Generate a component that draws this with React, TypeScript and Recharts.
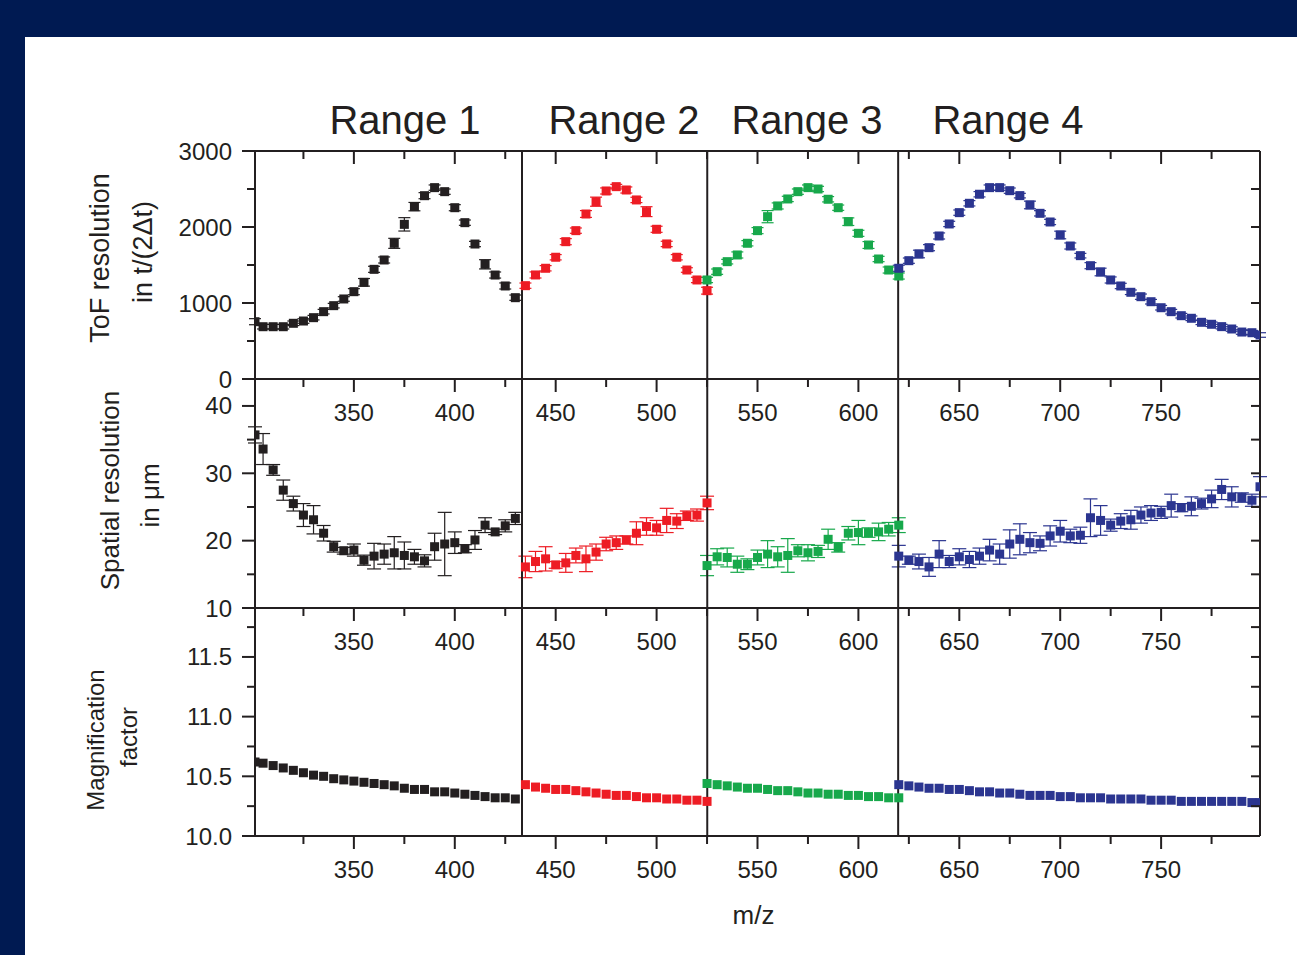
import React from "react";
import { ScatterChart, Scatter, XAxis, YAxis, ErrorBar, ReferenceLine } from "recharts";

const ink = "#231f20";
const navy = "#001a52";
const font = "'Liberation Sans', Arial, Helvetica, sans-serif";
const rangeColors = ["#231f20", "#ed1c24", "#17a84b", "#2b3590"];

// m/z positions of the four ranges
const r1Mz = [301, 305, 310, 315, 320, 325, 330, 335, 340, 345, 350, 355, 360, 365, 370, 375, 380, 385, 390, 395, 400, 405, 410, 415, 420, 425, 430];
const r2Mz = [435, 440, 445, 450, 455, 460, 465, 470, 475, 480, 485, 490, 495, 500, 505, 510, 515, 520, 525];
const r3Mz = [525, 530, 535, 540, 545, 550, 555, 560, 565, 570, 575, 580, 585, 590, 595, 600, 605, 610, 615, 620];
const r4Mz = [620, 625, 630, 635, 640, 645, 650, 655, 660, 665, 670, 675, 680, 685, 690, 695, 700, 705, 710, 715, 720, 725, 730, 735, 740, 745, 750, 755, 760, 765, 770, 775, 780, 785, 790, 795, 799];

// ToF resolution t/(2Δt)
const r1Tof = [754, 688, 688, 688, 733, 763, 807, 886, 965, 1053, 1149, 1272, 1443, 1566, 1785, 2035, 2268, 2412, 2518, 2465, 2254, 2057, 1776, 1509, 1368, 1224, 1070];
const r1TofErr = [40, 30, 30, 30, 30, 30, 30, 30, 30, 30, 40, 50, 40, 40, 66, 88, 55, 40, 35, 35, 40, 35, 35, 61, 40, 40, 35];
const r2Tof = [1228, 1369, 1457, 1602, 1807, 1952, 2171, 2333, 2474, 2531, 2487, 2356, 2202, 1970, 1777, 1602, 1434, 1303, 1162];
const r2TofErr = [35, 40, 35, 35, 40, 35, 45, 60, 40, 30, 40, 35, 65, 40, 35, 35, 30, 35, 45];
const r3Tof = [1303, 1412, 1544, 1632, 1786, 1952, 2136, 2277, 2369, 2465, 2518, 2500, 2365, 2254, 2070, 1917, 1763, 1579, 1434, 1355];
const r3TofErr = [35, 35, 30, 40, 35, 40, 80, 40, 35, 35, 35, 35, 35, 35, 50, 40, 45, 35, 40, 40];
const r4Tof = [1457, 1557, 1645, 1728, 1882, 2040, 2189, 2312, 2431, 2518, 2518, 2478, 2413, 2290, 2180, 2066, 1895, 1750, 1623, 1491, 1408, 1303, 1224, 1141, 1083, 1017, 938, 886, 833, 799, 746, 720, 689, 658, 618, 609, 579];
const r4TofErr = [40, 35, 50, 40, 40, 35, 35, 35, 35, 35, 35, 35, 30, 50, 35, 35, 50, 40, 30, 40, 50, 40, 35, 30, 35, 30, 30, 30, 30, 30, 30, 30, 30, 30, 30, 30, 30];

// spatial resolution in µm
const r1Spatial = [35.7, 33.6, 30.5, 27.5, 25.5, 23.8, 23.1, 21.1, 19.1, 18.5, 18.6, 17.1, 17.7, 18.0, 18.2, 17.8, 17.6, 17.0, 19.1, 19.5, 19.7, 18.8, 20.1, 22.3, 21.3, 22.2, 23.3];
const r1SpatialErr = [1.2, 2.3, 0.8, 1.5, 1.1, 1.7, 2.1, 1.15, 0.8, 0.5, 0.9, 0.75, 1.9, 1.5, 2.4, 2.0, 1.1, 0.9, 2.0, 4.7, 1.6, 0.6, 1.4, 1.1, 0.4, 0.9, 0.9];
const r2Spatial = [16.1, 16.9, 17.3, 16.4, 16.7, 17.8, 17.3, 18.3, 19.5, 19.7, 20.1, 21.1, 22.1, 21.9, 23.0, 22.9, 23.7, 23.8, 25.6];
const r2SpatialErr = [1.6, 1.5, 1.8, 0.5, 1.4, 1.1, 1.9, 1.2, 1.0, 1.0, 0.6, 1.7, 1.3, 1.1, 1.8, 1.1, 0.7, 0.9, 1.0];
const r3Spatial = [16.3, 17.6, 17.5, 16.5, 16.5, 17.5, 18.0, 17.6, 17.8, 18.5, 18.2, 18.4, 20.2, 19.0, 21.1, 21.2, 21.2, 21.3, 21.7, 22.3];
const r3SpatialErr = [1.5, 1.2, 1.4, 1.2, 0.8, 1.1, 2.0, 1.5, 2.5, 0.9, 1.2, 0.9, 1.5, 0.7, 1.0, 1.8, 0.7, 1.3, 1.0, 1.1];
const r4Spatial = [17.7, 17.1, 16.9, 16.1, 18.0, 16.9, 17.6, 17.2, 17.7, 18.6, 18.0, 19.5, 20.2, 19.7, 19.6, 20.7, 21.4, 20.7, 20.8, 23.4, 23.0, 22.3, 22.9, 23.1, 23.8, 24.1, 24.2, 25.2, 24.9, 25.1, 25.5, 26.2, 27.6, 26.5, 26.4, 26.0, 28.0];
const r4SpatialErr = [1.6, 0.6, 1.1, 1.4, 2.0, 0.9, 1.2, 1.2, 1.2, 1.6, 1.5, 2.1, 2.3, 1.5, 1.1, 1.5, 1.6, 1.0, 1.2, 2.8, 2.2, 0.9, 1.1, 1.4, 1.2, 1.1, 0.9, 1.7, 0.6, 1.4, 0.8, 1.3, 1.5, 1.5, 0.7, 0.9, 1.5];

// magnification factor
const r1Mag = [10.62, 10.61, 10.59, 10.57, 10.55, 10.53, 10.51, 10.5, 10.48, 10.47, 10.46, 10.45, 10.44, 10.43, 10.42, 10.4, 10.39, 10.39, 10.37, 10.37, 10.36, 10.35, 10.34, 10.33, 10.32, 10.32, 10.31];
const r2Mag = [10.43, 10.41, 10.4, 10.39, 10.39, 10.38, 10.37, 10.36, 10.35, 10.34, 10.34, 10.33, 10.32, 10.32, 10.31, 10.31, 10.3, 10.3, 10.29];
const r3Mag = [10.44, 10.43, 10.42, 10.41, 10.4, 10.4, 10.39, 10.38, 10.38, 10.37, 10.36, 10.36, 10.35, 10.35, 10.34, 10.34, 10.33, 10.33, 10.32, 10.32];
const r4Mag = [10.43, 10.42, 10.41, 10.4, 10.4, 10.39, 10.39, 10.38, 10.37, 10.37, 10.36, 10.36, 10.35, 10.34, 10.34, 10.34, 10.33, 10.33, 10.32, 10.32, 10.32, 10.31, 10.31, 10.31, 10.31, 10.3, 10.3, 10.3, 10.29, 10.29, 10.29, 10.29, 10.29, 10.29, 10.29, 10.28, 10.28];

const xTicks = [325, 350, 375, 400, 425, 450, 475, 500, 525, 550, 575, 600, 625, 650, 675, 700, 725, 750, 775];
const xLabelTicks = [350, 400, 450, 500, 550, 600, 650, 700, 750];
const rangeEdges = [433.3, 525.1, 619.7];
const rangeTitles = ["Range 1", "Range 2", "Range 3", "Range 4"];

const tofTicks = [0, 500, 1000, 1500, 2000, 2500, 3000];
const tofLabelTicks = [0, 1000, 2000, 3000];
const spatialTicks = [10, 15, 20, 25, 30, 35, 40];
const spatialLabelTicks = [10, 20, 30, 40];
const magTicks = [10, 10.25, 10.5, 10.75, 11, 11.25, 11.5, 11.75];
const magLabelTicks = [10, 10.5, 11, 11.5];

const zip = (mz: number[], y: number[], err?: number[]) =>
  mz.map((x, i) => ({ x, y: y[i], err: err ? err[i] : 0 }))

const tofSeries = [zip(r1Mz, r1Tof, r1TofErr), zip(r2Mz, r2Tof, r2TofErr), zip(r3Mz, r3Tof, r3TofErr), zip(r4Mz, r4Tof, r4TofErr)];
const spatialSeries = [zip(r1Mz, r1Spatial, r1SpatialErr), zip(r2Mz, r2Spatial, r2SpatialErr), zip(r3Mz, r3Spatial, r3SpatialErr), zip(r4Mz, r4Spatial, r4SpatialErr)];
const magSeries = [zip(r1Mz, r1Mag), zip(r2Mz, r2Mag), zip(r3Mz, r3Mag), zip(r4Mz, r4Mag)];

const T = 13
const M = 3

const isIn = (list: number[], v: number) => list.some((t) => Math.abs(t - v) < 1e-6)

function XTick(props: any) {
  const { x, y, payload, showLabel } = props
  const axisY = y - T - M
  const major = isIn(xLabelTicks, payload.value)
  return (
    <g>
      <line x1={x} x2={x} y1={axisY} y2={axisY + (major ? 13 : 8)} stroke={ink} strokeWidth={2} />
      {showLabel && major && (
        <text x={x} y={axisY + 42} textAnchor="middle" fontSize={24} fontFamily={font} fill={ink}>
          {payload.value}
        </text>
      )}
    </g>
  )
}

function YTick(props: any) {
  const { x, y, payload, majors, fmt, len } = props
  const axisX = x + T + M
  const major = majors ? isIn(majors, payload.value) : false
  const l = len ?? (major ? 13 : 8)
  return (
    <g>
      <line x1={axisX - l} x2={axisX} y1={y} y2={y} stroke={ink} strokeWidth={2} />
      {fmt && major && (
        <text x={axisX - 23} y={y} textAnchor="end" dominantBaseline="central" fontSize={24} fontFamily={font} fill={ink}>
          {fmt(payload.value)}
        </text>
      )}
    </g>
  )
}

type TitleLine = { text: string; dx: number; dy: number; size: number }

function axisTitle(lines: TitleLine[]) {
  return (props: any) => {
    const vb = props.viewBox
    const midY = vb.y + vb.height / 2
    return (
      <g>
        {lines.map((l) => (
          <text
            key={l.text}
            transform={`translate(${vb.x + l.dx},${midY + l.dy}) rotate(-90)`}
            textAnchor="middle"
            dominantBaseline="central"
            fontSize={l.size}
            fontFamily={font}
            fill={ink}
          >
            {l.text}
          </text>
        ))}
      </g>
    )
  }
}

const mzTitle = (props: any) => {
  const vb = props.viewBox
  return (
    <text x={vb.x + vb.width / 2 - 4} y={vb.y + 88} textAnchor="middle" fontSize={26} fontFamily={font} fill={ink}>
      m/z
    </text>
  )
}

const axisLine = { stroke: ink, strokeWidth: 2 }

function square(color: string) {
  return (p: any) => <rect x={p.cx - 4.5} y={p.cy - 4.5} width={9} height={9} fill={color} />
}

function Panel({
  series,
  domain,
  ticks,
  labelTicks,
  fmt,
  top,
  bottom,
  height,
  topAxis,
  yTitle,
  xTitle,
  errWidth,
}: any) {
  return (
    <div style={{ position: "absolute", left: 0, top: 0 }}>
      <ScatterChart width={1297} height={height} margin={{ top, right: 37, left: 195, bottom: height - bottom - 40 }}>
        <XAxis
          xAxisId="b"
          type="number"
          dataKey="x"
          domain={[301, 799]}
          allowDataOverflow
          ticks={xTicks}
          interval={0}
          height={40}
          tickSize={T}
          tickMargin={M}
          tickLine={false}
          axisLine={axisLine}
          tick={(p: any) => <XTick {...p} showLabel />}
          label={xTitle ? mzTitle : undefined}
        />
        {topAxis && (
          <XAxis
            xAxisId="t"
            orientation="top"
            mirror
            type="number"
            dataKey="x"
            domain={[301, 799]}
            allowDataOverflow
            ticks={xTicks}
            interval={0}
            tickSize={T}
            tickMargin={M}
            tickLine={false}
            axisLine={axisLine}
            tick={(p: any) => <XTick {...p} showLabel={false} />}
          />
        )}
        <YAxis
          yAxisId="l"
          type="number"
          dataKey="y"
          domain={domain}
          allowDataOverflow
          ticks={ticks}
          interval={0}
          width={60}
          tickSize={T}
          tickMargin={M}
          tickLine={false}
          axisLine={axisLine}
          tick={(p: any) => <YTick {...p} majors={labelTicks} fmt={fmt} />}
          label={yTitle}
        />
        <YAxis
          yAxisId="r"
          orientation="right"
          mirror
          type="number"
          dataKey="y"
          domain={domain}
          allowDataOverflow
          ticks={ticks}
          interval={0}
          tickSize={T}
          tickMargin={M}
          tickLine={false}
          axisLine={axisLine}
          tick={(p: any) => <YTick {...p} len={9} />}
        />
        {series.map((s: any[], i: number) => (
          <Scatter
            key={i}
            xAxisId="b"
            yAxisId="l"
            data={s}
            fill={rangeColors[i]}
            shape={square(rangeColors[i])}
            isAnimationActive={false}
          >
            {errWidth > 0 && (
              <ErrorBar dataKey="err" direction="y" width={errWidth} stroke={rangeColors[i]} strokeWidth={1.2} isAnimationActive={false} />
            )}
          </Scatter>
        ))}
        {rangeEdges.map((e) => (
          <ReferenceLine key={e} xAxisId="b" yAxisId="l" x={e} stroke={ink} strokeWidth={2} />
        ))}
      </ScatterChart>
    </div>
  )
}

const titleCenters = [405, 624, 807, 1008]

export default function App() {
  return (
    <div style={{ position: "absolute", left: 0, top: 0, width: 1297, height: 955, background: navy, overflow: "hidden" }}>
      <div style={{ position: "absolute", left: 25, top: 37, right: 0, bottom: 0, background: "#fff" }} />
      {rangeTitles.map((t, i) => (
        <div
          key={t}
          style={{
            position: "absolute",
            left: titleCenters[i] - 120,
            width: 240,
            top: 100,
            lineHeight: "40px",
            textAlign: "center",
            fontSize: 40,
            fontFamily: font,
            color: ink,
          }}
        >
          {t}
        </div>
      ))}
      <Panel
        series={tofSeries}
        domain={[0, 3000]}
        ticks={tofTicks}
        labelTicks={tofLabelTicks}
        fmt={(v: number) => String(v)}
        top={151}
        bottom={379}
        height={460}
        topAxis
        errWidth={6}
        yTitle={axisTitle([
          { text: "ToF resolution", dx: -95, dy: -7, size: 27 },
          { text: "in t/(2\u0394t)", dx: -52, dy: -13, size: 27 },
        ])}
      />
      <Panel
        series={spatialSeries}
        domain={[10, 44]}
        ticks={spatialTicks}
        labelTicks={spatialLabelTicks}
        fmt={(v: number) => String(v)}
        top={379}
        bottom={608}
        height={690}
        errWidth={7}
        yTitle={axisTitle([
          { text: "Spatial resolution", dx: -85, dy: -3, size: 26 },
          { text: "in \u03bcm", dx: -45, dy: 2, size: 26 },
        ])}
      />
      <Panel
        series={magSeries}
        domain={[10, 11.91]}
        ticks={magTicks}
        labelTicks={magLabelTicks}
        fmt={(v: number) => v.toFixed(1)}
        top={608}
        bottom={836}
        height={955}
        errWidth={0}
        xTitle
        yTitle={axisTitle([
          { text: "Magnification", dx: -100, dy: 18, size: 24 },
          { text: "factor", dx: -67, dy: 15, size: 24 },
        ])}
      />
    </div>
  )
}
